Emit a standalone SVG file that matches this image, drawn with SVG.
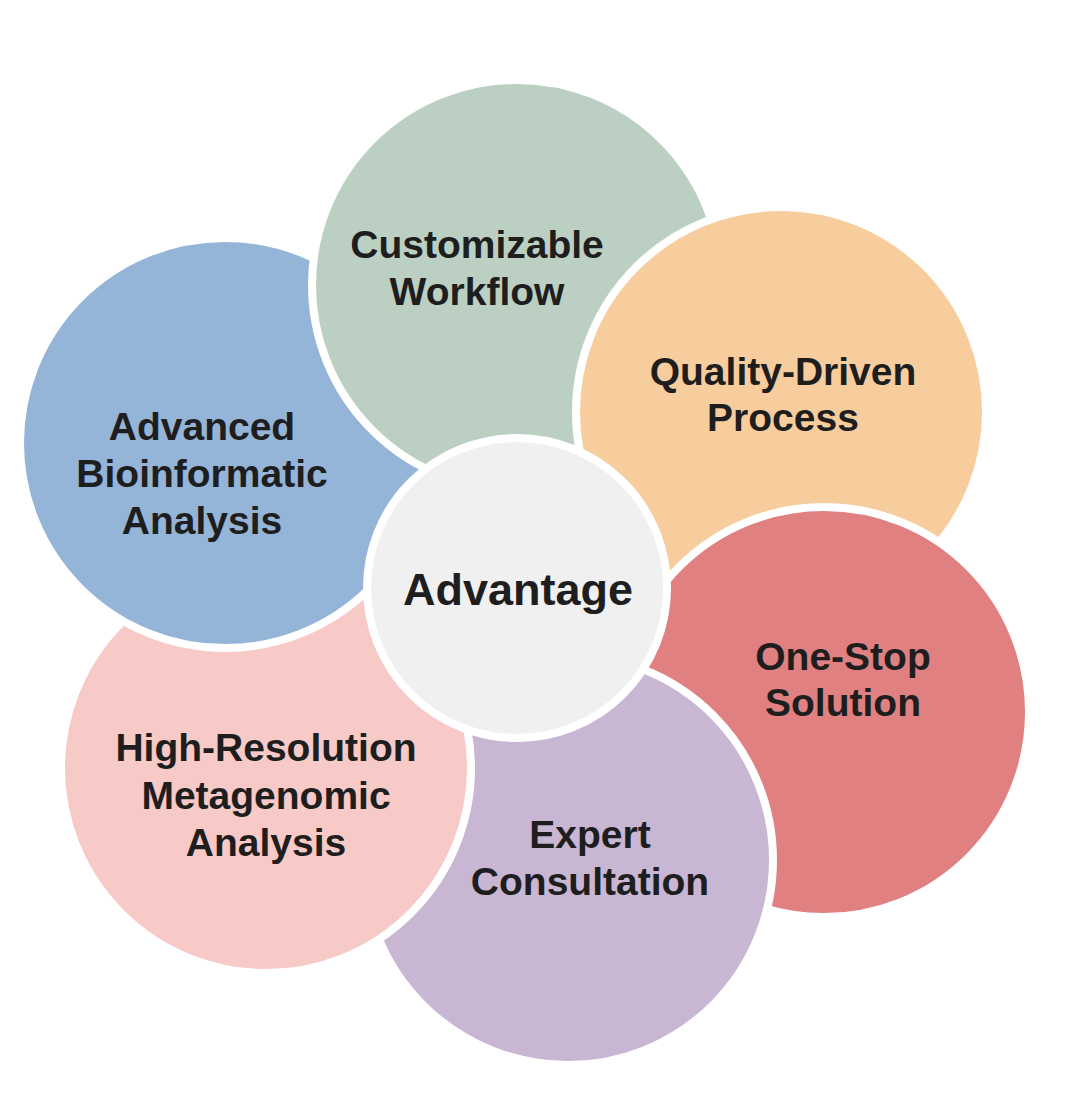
<svg xmlns="http://www.w3.org/2000/svg" width="1080" height="1096" viewBox="0 0 1080 1096">
<style>
.c{stroke:#fff;stroke-width:8}
text{font-family:"Liberation Sans",Arial,sans-serif;font-weight:bold;font-size:39px;fill:#1e1e1e;text-anchor:middle}
</style>
<defs><clipPath id="cl"><rect x="0" y="520" width="420" height="200"/></clipPath></defs>
<rect width="1080" height="1096" fill="#fff"/>
<g id="blue"><circle class="c" cx="225" cy="443" r="205" fill="#94B4D8"/></g>
<g id="green"><circle class="c" cx="517" cy="285" r="205" fill="#BBD0C3"/><text x="477" y="258">Customizable</text><text x="477" y="305">Workflow</text></g>
<g id="orange"><circle class="c" cx="781" cy="412" r="205" fill="#F7CD9E"/><text x="783" y="385">Quality-Driven</text><text x="783" y="431">Process</text></g>
<g id="red"><circle class="c" cx="824" cy="712" r="205" fill="#E08080"/><text x="843" y="670">One-Stop</text><text x="843" y="716">Solution</text></g>
<g id="purple"><circle class="c" cx="568" cy="860" r="205" fill="#C8B6D3"/><text x="590" y="848">Expert</text><text x="590" y="895">Consultation</text></g>
<g id="pink"><circle class="c" cx="266" cy="768" r="205" fill="#F7C9C7"/><text x="266" y="761">High-Resolution</text><text x="266" y="809">Metagenomic</text><text x="266" y="856">Analysis</text></g>
<g id="blue-top"><circle class="c" cx="225" cy="443" r="205" fill="#94B4D8" clip-path="url(#cl)"/><text x="202" y="440">Advanced</text><text x="202" y="487">Bioinformatic</text><text x="202" y="534">Analysis</text></g>
<g id="center"><circle class="c" cx="517" cy="588" r="150" fill="#F0F0F0"/><text x="518" y="605" style="font-size:45px">Advantage</text></g>
<g id="connectors"/>
</svg>
